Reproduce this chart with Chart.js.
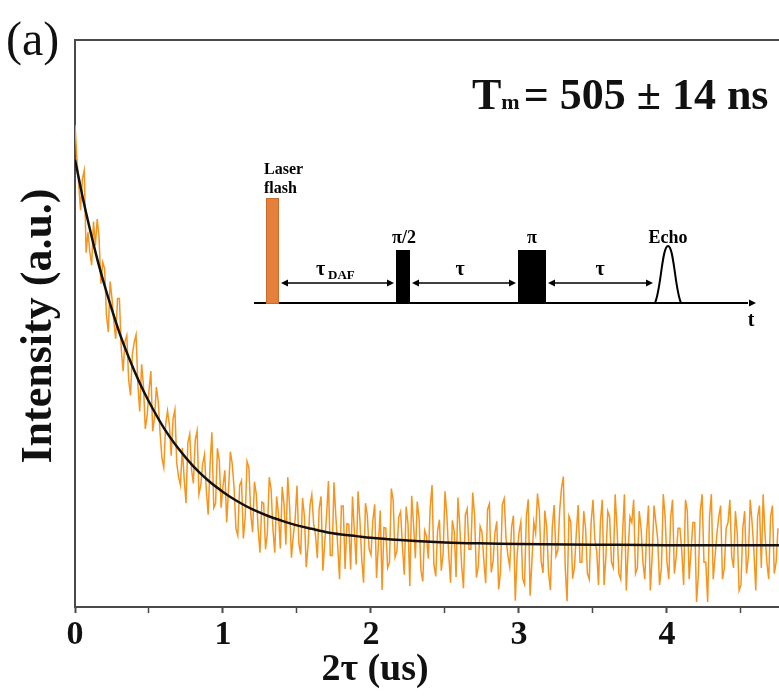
<!DOCTYPE html>
<html>
<head>
<meta charset="utf-8">
<script src="https://cdn.jsdelivr.net/npm/chart.js@4.4.1/dist/chart.umd.min.js"></script>
<style>
  html, body { margin: 0; padding: 0; background: #fff; }
  #chart { display: block; }
</style>
</head>
<body>
<canvas id="chart" width="779" height="697"></canvas>
<script>
// echo decay, sampled every 12.5 ns from 0 us
const startTime = 0;
const timeStep = 0.0125;
const echoSignal = [
  85.0, 79.2, 74.6, 70.0, 75.5, 77.0, 62.5, 66.1, 62.7, 60.3, 68.0, 63.7, 68.4, 65.2, 57.0, 60.8, 59.7, 51.5, 48.5, 57.4,
  54.4, 50.3, 47.3, 54.4, 54.4, 45.5, 41.6, 46.8, 47.9, 40.1, 37.3, 44.5, 46.7, 48.0, 39.2, 34.5, 42.8, 39.1, 31.4, 33.8,
  38.2, 41.6, 31.0, 33.4, 38.8, 36.2, 30.7, 26.2, 24.6, 32.1, 34.6, 32.2, 26.7, 33.2, 34.8, 25.3, 22.9, 21.5, 28.1, 22.7,
  18.3, 28.9, 30.5, 24.2, 21.8, 29.5, 31.1, 19.9, 21.5, 25.2, 26.9, 20.6, 16.3, 25.1, 30.8, 17.5, 18.3, 28.0, 25.8, 17.5,
  21.3, 24.1, 14.9, 20.7, 27.4, 25.2, 21.0, 13.8, 12.6, 21.4, 22.3, 12.1, 15.9, 25.7, 24.6, 16.4, 13.2, 22.1, 19.9, 13.8,
  9.6, 18.5, 18.3, 10.2, 13.1, 22.9, 20.8, 13.7, 9.6, 19.5, 16.4, 10.3, 21.2, 18.1, 11.0, 22.9, 17.8, 8.7, 12.6, 15.5,
  21.4, 11.3, 9.3, 19.2, 16.1, 7.0, 10.9, 17.9, 19.8, 14.7, 12.7, 8.6, 17.5, 19.5, 6.4, 11.3, 16.2, 22.2, 9.1, 9.1,
  22.0, 16.0, 10.9, 4.9, 17.8, 17.8, 6.7, 14.7, 14.6, 6.6, 19.5, 13.5, 7.5, 20.4, 15.4, 8.4, 4.3, 18.3, 16.2, 10.2,
  9.2, 15.2, 18.1, 5.1, 11.0, 17.0, 3.0, 14.0, 13.9, 6.9, 7.9, 20.9, 18.8, 8.8, 9.8, 15.8, 16.8, 10.7, 5.7, 17.7,
  14.7, 3.7, 19.6, 14.6, 8.6, 18.6, 15.6, 6.5, 4.5, 13.5, 12.5, 8.5, 17.5, 21.5, 7.5, 5.4, 13.4, 15.4, 6.4, 9.4,
  20.4, 16.3, 9.4, 4.3, 15.3, 13.3, 5.3, 19.3, 14.3, 7.3, 3.3, 16.2, 17.3, 10.2, 10.2, 20.2, 16.2, 5.2, 7.2, 14.2,
  13.2, 8.2, 4.2, 17.2, 18.2, 6.1, 8.1, 13.1, 15.1, 3.1, 6.1, 18.1, 19.1, 12.1, 9.1, 7.1, 14.1, 16.1, 1.1, 9.1,
  13.1, 15.0, 5.0, 4.0, 16.0, 19.0, 2.0, 8.0, 15.0, 13.0, 20.0, 17.0, 8.0, 6.0, 17.0, 14.0, 6.0, 3.0, 14.0, 18.0,
  9.0, 10.0, 17.0, 21.0, 23.0, 7.0, 1.0, 16.0, 15.0, 5.0, 7.0, 13.0, 18.0, 7.9, 7.9, 16.9, 13.9, 5.9, 4.9, 14.9,
  18.9, 11.9, 9.9, 3.9, 14.9, 18.9, 3.9, 8.9, 16.9, 15.9, 7.9, 6.9, 19.9, 13.9, 5.9, 4.9, 12.9, 19.9, 2.9, 9.9,
  15.9, 14.9, 18.9, 5.9, 6.9, 16.9, 13.9, 7.9, 4.9, 12.9, 17.9, 2.9, 8.9, 17.9, 14.9, 11.9, 3.9, 6.9, 19.9, 15.9,
  7.9, 4.9, 15.9, 18.9, 5.9, 8.9, 13.9, 13.9, 9.9, 3.9, 18.9, 16.9, 4.9, 9.9, 14.9, 14.9, 0.9, 5.9, 16.9, 19.9,
  7.9, 7.9, 0.9, 15.9, 19.9, 4.9, 8.9, 12.9, 15.9, 17.9, 4.9, 6.9, 13.9, 14.9, 18.9, 8.9, 6.9, 16.9, 12.9, 2.9,
  3.9, 13.9, 16.9, 5.9, 8.9, 18.9, 14.9, 9.9, 2.9, 15.9, 17.9, 6.9, 19.9, 12.9, 7.9, 4.9, 15.9, 17.9, 5.9, 7.9,
  13.9
];

// mono-exponential fit, Tm = 505 ns
const fitTime = [0, 0.05, 0.1, 0.15, 0.2, 0.25, 0.3, 0.35, 0.4, 0.45, 0.5, 0.6, 0.7, 0.8, 0.9,
  1.0, 1.1, 1.2, 1.3, 1.4, 1.5, 1.6, 1.7, 1.8, 1.9, 2.0, 2.2, 2.4, 2.6, 2.8, 3.0, 3.5, 4.0, 4.5, 4.76];
const fitSignal = [78.9, 72.5, 66.7, 61.4, 56.7, 52.4, 48.4, 44.9, 41.7, 38.8, 36.2, 31.6, 27.9, 24.8, 22.3,
  20.3, 18.6, 17.2, 16.1, 15.2, 14.4, 13.8, 13.2, 12.8, 12.5, 12.2, 11.8, 11.5, 11.3, 11.2, 11.1, 11.0, 10.9, 10.9, 10.9];

const xTicks = [0, 0.5, 1, 1.5, 2, 2.5, 3, 3.5, 4, 4.5];

const serif = '"Liberation Serif", "Times New Roman", serif';
const axisColor = "#4a4a4a";

const echoPoints = echoSignal.map((v, i) => ({ x: startTime + i * timeStep, y: v }));
const fitPoints = fitTime.map((t, i) => ({ x: t, y: fitSignal[i] }));

function arrowHead(ctx, x, y, dir) {
  ctx.beginPath();
  ctx.moveTo(x, y);
  ctx.lineTo(x - dir * 7, y - 3.5);
  ctx.lineTo(x - dir * 7, y + 3.5);
  ctx.closePath();
  ctx.fill();
}

function doubleArrow(ctx, x1, x2, y) {
  ctx.beginPath();
  ctx.moveTo(x1 + 3, y);
  ctx.lineTo(x2 - 3, y);
  ctx.stroke();
  arrowHead(ctx, x1, y, -1);
  arrowHead(ctx, x2, y, 1);
}

const decorations = {
  id: "decorations",
  afterDraw(chart) {
    const ctx = chart.ctx;
    const area = chart.chartArea;
    ctx.save();

    // top frame line
    ctx.strokeStyle = axisColor;
    ctx.lineWidth = 2;
    ctx.beginPath();
    ctx.moveTo(area.left, area.top);
    ctx.lineTo(779, area.top);
    ctx.stroke();

    ctx.fillStyle = "#111";
    ctx.textBaseline = "middle";

    // panel label
    ctx.font = "48px " + serif;
    ctx.textAlign = "left";
    ctx.fillText("(a)", 6, 42);

    // axis titles
    ctx.font = "bold 38px " + serif;
    ctx.textAlign = "center";
    ctx.fillText("2\u03c4 (us)", 375, 670);

    ctx.save();
    ctx.translate(40, 326);
    ctx.rotate(-Math.PI / 2);
    ctx.font = "bold 44px " + serif;
    ctx.fillText("Intensity (a.u.)", 0, 0);
    ctx.restore();

    // Tm annotation
    ctx.textAlign = "left";
    ctx.textBaseline = "alphabetic";
    let x = 472;
    const base = 109;
    ctx.font = "bold 44px " + serif;
    ctx.fillText("T", x, base);
    x += ctx.measureText("T").width;
    ctx.font = "bold 22px " + serif;
    ctx.fillText("m", x, base);
    x += ctx.measureText("m").width + 4;
    ctx.font = "bold 44px " + serif;
    ctx.fillText("= 505 \u00b1 14 ns", x, base);

    // pulse sequence inset
    const y0 = 303;
    ctx.strokeStyle = "#000";
    ctx.fillStyle = "#000";
    ctx.lineWidth = 2;
    ctx.beginPath();
    ctx.moveTo(254, y0);
    ctx.lineTo(748, y0);
    ctx.stroke();
    arrowHead(ctx, 756, y0, 1);

    ctx.fillStyle = "#e5803c";
    ctx.fillRect(266, 198, 13, y0 - 198);
    ctx.strokeStyle = "#c9692a";
    ctx.lineWidth = 1;
    ctx.strokeRect(266.5, 198.5, 12, y0 - 198);

    ctx.fillStyle = "#000";
    ctx.strokeStyle = "#000";
    ctx.fillRect(396, 250, 14, y0 - 250);
    ctx.fillRect(518, 250, 28, y0 - 250);

    ctx.lineWidth = 2;
    ctx.beginPath();
    ctx.moveTo(655, y0);
    ctx.bezierCurveTo(661, 290, 662, 246, 668, 246);
    ctx.bezierCurveTo(674, 246, 675, 290, 681, y0);
    ctx.stroke();

    ctx.lineWidth = 1.5;
    doubleArrow(ctx, 281, 394, 283);
    doubleArrow(ctx, 412, 516, 283);
    doubleArrow(ctx, 548, 653, 283);

    ctx.textAlign = "left";
    ctx.textBaseline = "alphabetic";
    ctx.font = "bold 16px " + serif;
    ctx.fillText("Laser", 264, 174);
    ctx.fillText("flash", 264, 193);
    ctx.textAlign = "center";
    ctx.font = "bold 18px " + serif;
    ctx.fillText("\u03c0/2", 404, 243);
    ctx.fillText("\u03c0", 532, 243);
    ctx.fillText("Echo", 668, 243);
    ctx.font = "bold 20px " + serif;
    ctx.fillText("\u03c4", 460, 275);
    ctx.fillText("\u03c4", 600, 275);
    ctx.textAlign = "left";
    ctx.fillText("\u03c4", 316, 275);
    ctx.font = "bold 13px " + serif;
    ctx.fillText("DAF", 328, 279);
    ctx.font = "bold 20px " + serif;
    ctx.textAlign = "center";
    ctx.fillText("t", 751, 326);

    ctx.restore();
  }
};

const chartCtx = document.getElementById("chart").getContext("2d");
const chart = new Chart(chartCtx, {
  type: "line",
  data: {
    datasets: [
      {
        label: "Fit",
        data: fitPoints,
        borderColor: "#111",
        borderWidth: 2.5,
        pointRadius: 0,
        cubicInterpolationMode: "monotone",
        order: 0
      },
      {
        label: "Echo intensity",
        data: echoPoints,
        borderColor: "#f7941e",
        borderWidth: 1.5,
        pointRadius: 0,
        tension: 0,
        order: 1
      }
    ]
  },
  options: {
    responsive: false,
    animation: false,
    events: [],
    layout: { padding: { left: 75, top: 40, right: 0, bottom: 0 } },
    plugins: { legend: { display: false }, tooltip: { enabled: false } },
    scales: {
      x: {
        type: "linear",
        min: 0,
        max: 4.757,
        afterBuildTicks: scale => { scale.ticks = xTicks.map(v => ({ value: v })); },
        afterFit: scale => { scale.height = 90; },
        ticks: {
          callback: v => Number.isInteger(v) ? String(v) : "",
          color: "#111",
          font: { family: serif, size: 34, weight: "bold" },
          padding: 2,
          maxRotation: 0,
          autoSkip: false
        },
        grid: {
          drawOnChartArea: false,
          drawTicks: true,
          tickLength: 6,
          tickColor: axisColor,
          tickWidth: ctx => Number.isInteger(ctx.tick && ctx.tick.value) ? 2 : 1.5
        },
        border: { display: true, color: axisColor, width: 2 }
      },
      y: {
        type: "linear",
        min: 0,
        max: 100,
        afterFit: scale => { scale.width = 0; },
        ticks: { display: false },
        grid: { display: false },
        border: { display: true, color: axisColor, width: 2 }
      }
    }
  },
  plugins: [decorations]
});
</script>
</body>
</html>
